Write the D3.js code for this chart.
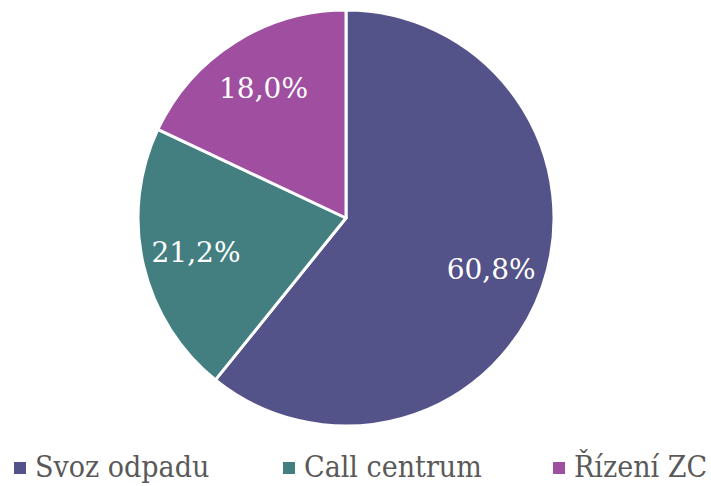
<!DOCTYPE html>
<html>
<head>
<meta charset="utf-8">
<script src="https://cdn.jsdelivr.net/npm/d3@7"></script>
<style>
  body { margin: 0; background: #fff; }
  .label { font-family: 'DejaVu Serif', serif; fill: #fff; }
  .legend text { font-family: 'DejaVu Serif Condensed', 'DejaVu Serif', serif; fill: #595959; }
</style>
</head>
<body>
<div class="chart"></div>
<script>
const categories = ['Svoz odpadu', 'Call centrum', 'Řízení ZC']
const values = [60.8, 21.2, 18.0]
const colors = ['#535289', '#437f81', '#a04fa0']

const width = 711
const height = 486
const cx = 346
const cy = 218
const radius = 208

const svg = d3.select('.chart')
    .append('svg')
    .attr('width', width)
    .attr('height', height)

const pie = d3.pie().sort(null).value(d => d)
const arcs = pie(values)
const arc = d3.arc().innerRadius(0).outerRadius(radius)
const labelArc = d3.arc().innerRadius(radius * 0.74).outerRadius(radius * 0.74)

const g = svg.append('g')
    .attr('transform', `translate(${cx}, ${cy})`)

g.selectAll('path')
    .data(arcs)
    .enter()
    .append('path')
    .attr('d', arc)
    .attr('fill', (d, i) => colors[i])
    .attr('stroke', '#fff')
    .attr('stroke-width', 3)
    .attr('stroke-linejoin', 'round')

g.selectAll('text')
    .data(arcs)
    .enter()
    .append('text')
    .attr('class', 'label')
    .attr('transform', d => `translate(${labelArc.centroid(d)})`)
    .attr('text-anchor', 'middle')
    .attr('dy', '0.35em')
    .style('font-size', '28px')
    .text(d => d3.format('.1f')(d.data).replace('.', ',') + '%')

const legendX = [14, 283, 553]
const legend = svg.append('g').attr('class', 'legend')
const item = legend.selectAll('g')
    .data(categories)
    .enter()
    .append('g')
    .attr('transform', (d, i) => `translate(${legendX[i]}, 0)`)

item.append('rect')
    .attr('x', 0)
    .attr('y', 462)
    .attr('width', 12)
    .attr('height', 12)
    .attr('fill', (d, i) => colors[i])

item.append('text')
    .attr('x', 21)
    .attr('y', 477)
    .style('font-size', '30px')
    .text(d => d)
</script>
</body>
</html>
